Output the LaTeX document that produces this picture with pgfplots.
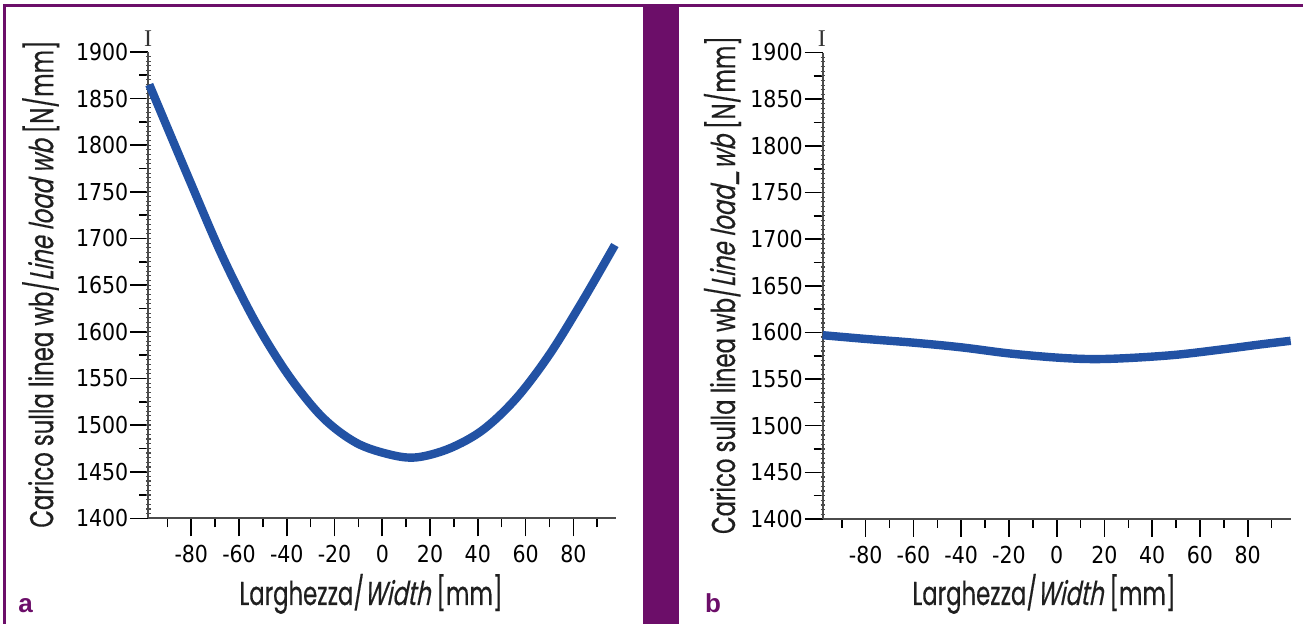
\documentclass[border=0pt]{standalone}
\usepackage{fontspec}
\usepackage{pgfplots}
\usepackage{pgfplotstable}
\pgfplotsset{compat=1.18}
\newfontfamily\tickfont{DejaVu Sans}[FakeStretch=0.88]
\newfontfamily\labfont{Poppins}[FakeStretch=0.69,FakeBold=0.35]
\newfontfamily\labit{Poppins}[FakeStretch=0.69,FakeSlant=0.2,FakeBold=0.35]
\newfontfamily\panelfont{Liberation Sans}
\newfontfamily\serifI{Liberation Serif}
\definecolor{purp}{RGB}{108,14,105}
\definecolor{curvecol}{RGB}{34,82,164}
\definecolor{axgray}{RGB}{75,75,75}

\pgfplotstableread{
x y
-97.6 1865
-80.8 1763
-66.8 1680
-52.8 1609
-38.9 1552
-24.9 1508
-10.9 1481
3.1 1468.5
14.3 1465.4
28.2 1475
42.2 1495
56.2 1529
70.1 1576
84.1 1634
97.4 1693
}\leftdata

\pgfplotstableread{
x y
-98 1597
-80 1593
-60 1589
-40 1584
-20 1577.5
0 1573
15 1571.4
30 1572.5
50 1576
70 1582
85 1587
98 1591
}\rightdata

\pgfplotsset{panel/.style={
  scale only axis, width=234pt, height=233.25pt,
  anchor=south west,
  xmin=-98, xmax=98, ymin=1400, ymax=1900,
  axis x line*=bottom, axis y line*=left,
  axis line style={axgray, line width=1pt},
  tick align=outside,
  major tick length=9pt, minor tick length=4.5pt,
  tick style={black, line width=0.8pt},
  minor tick style={black, line width=0.8pt},
  xtick={-80,-60,-40,-20,0,20,40,60,80},
  xticklabels={-80,-60,-40,-20,0,20,40,60,80},
  minor xtick={-90,-70,-50,-30,-10,10,30,50,70,90},
  ytick={1400,1450,1500,1550,1600,1650,1700,1750,1800,1850,1900},
  yticklabels={1400,1450,1500,1550,1600,1650,1700,1750,1800,1850,1900},
  minor ytick={1425,1475,1525,1575,1625,1675,1725,1775,1825,1875},
  extra y ticks={1405,1410,...,1895},
  extra y tick labels={},
  extra y tick style={major tick length=2.2pt, tick align=center,
    tick style={axgray, line width=0.6pt}},
  tick label style={font=\tickfont\fontsize{11.66pt}{12pt}\selectfont, text=black},
  yticklabel style={xshift=2.5pt},
  xticklabel style={yshift=-1pt},
  clip=false,
}}

\begin{document}
\begin{tikzpicture}
\fill[white] (0,0) rectangle (651.5pt,-312pt);
\path[use as bounding box] (0,0) rectangle (651.5pt,-312pt);

\begin{axis}[panel, at={(74.15pt,-259.2pt)}]
\addplot[curvecol, line width=4.2pt, smooth, tension=0.55] table[x=x,y=y] {\leftdata};
\end{axis}

\begin{axis}[panel, at={(411.35pt,-259.5pt)}]
\addplot[curvecol, line width=4.2pt, smooth, tension=0.55] table[x=x,y=y] {\rightdata};
\end{axis}

% frame and separator
\draw[purp, line width=1.2pt] (2.25pt,-312pt) -- (2.25pt,-2.8pt) -- (651.5pt,-2.8pt);
\fill[purp] (321.4pt,-2.5pt) rectangle (339.5pt,-312pt);

% axis-end marks
\node[font=\serifI\fontsize{12pt}{12pt}\selectfont, inner sep=0, anchor=base, text=black!80] at (74.1pt,-23.5pt) {I};
\node[font=\serifI\fontsize{12pt}{12pt}\selectfont, inner sep=0, anchor=base, text=black!80] at (410.9pt,-23.4pt) {I};

% axis titles
\node[font=\labfont\fontsize{16.5pt}{18pt}\selectfont, text=black!88, inner sep=0, anchor=base] at (185.5pt,-302.5pt) {Larghezza/{\labit Width} [mm]};
\node[font=\labfont\fontsize{16.5pt}{18pt}\selectfont, text=black!88, inner sep=0, anchor=base] at (522pt,-302.5pt) {Larghezza/{\labit Width} [mm]};
\node[font=\labfont\fontsize{16.5pt}{18pt}\selectfont, text=black!88, inner sep=0, anchor=base, rotate=90] at (26.6pt,-142pt) {Carico sulla linea wb/{\labit Line load wb} [N/mm]};
\node[font=\labfont\fontsize{16.5pt}{18pt}\selectfont, text=black!88, inner sep=0, anchor=base, rotate=90] at (367.5pt,-142.5pt) {Carico sulla linea wb/{\labit Line load\_wb} [N/mm]};

% panel letters
\node[font=\panelfont\bfseries\fontsize{13pt}{14pt}\selectfont, text=purp, inner sep=0, anchor=base west] at (9pt,-306.5pt) {a};
\node[font=\panelfont\bfseries\fontsize{13pt}{14pt}\selectfont, text=purp, inner sep=0, anchor=base west] at (352.3pt,-306.5pt) {b};
\end{tikzpicture}
\end{document}
